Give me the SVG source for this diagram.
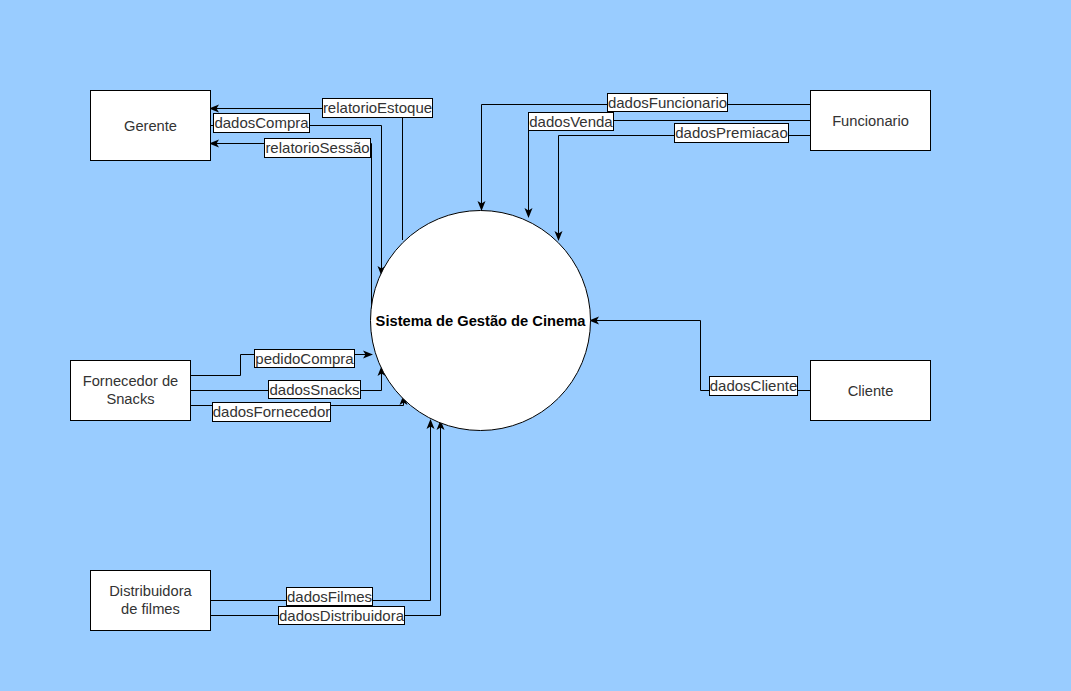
<svg xmlns="http://www.w3.org/2000/svg" width="1071" height="691" viewBox="0 0 1071 691">
<defs>
<marker id="arr" viewBox="0 0 10 10" refX="9" refY="5" markerWidth="10" markerHeight="10" markerUnits="userSpaceOnUse" orient="auto">
<path d="M0,1 L10,5 L0,9 L2.5,5 Z" fill="#000"/>
</marker>
<style>
.box{fill:#fff;stroke:#000;stroke-width:1}
.t{font-family:"Liberation Sans",Arial,sans-serif;font-size:14.7px;fill:#333;text-anchor:middle}
.c{fill:none;stroke:#000;stroke-width:1;marker-end:url(#arr)}
.lb{fill:#fff;stroke:#000;stroke-width:1}
.lt{font-family:"Liberation Sans",Arial,sans-serif;font-size:15px;fill:#333;text-anchor:middle}
</style>
</defs>
<rect width="1071" height="691" fill="#99CCFF"/>
<g id="connectors">
<path class="c" d="M402.5,240 V108.5 H210"/>
<path class="c" d="M210,125.5 H381.5 V275"/>
<path class="c" d="M371.5,335 V143.5 H210"/>
<path class="c" d="M810,104.5 H481.5 V210"/>
<path class="c" d="M810,120.5 H528.5 V217"/>
<path class="c" d="M810,135.5 H558.5 V240"/>
<path class="c" d="M190,375.5 H240.5 V354.5 H372"/>
<path class="c" d="M190,390.5 H381.5 V367"/>
<path class="c" d="M190,405.5 H403.5 V396"/>
<path class="c" d="M210,600.5 H430.5 V420"/>
<path class="c" d="M210,615.5 H440.5 V421"/>
<path class="c" d="M810,390.5 H700.5 V320.5 H590"/>
<rect class="lb" x="322.5" y="98.5" width="110" height="19"/><text class="lt" x="377.5" y="113">relatorioEstoque</text>
<rect class="lb" x="213.5" y="113.5" width="96" height="19"/><text class="lt" x="261.5" y="128">dadosCompra</text>
<rect class="lb" x="264.5" y="138.5" width="106" height="19"/><text class="lt" x="317.5" y="153">relatorioSessão</text>
<rect class="lb" x="607.5" y="93.5" width="120" height="18"/><text class="lt" x="667.5" y="107.5">dadosFuncionario</text>
<rect class="lb" x="528.5" y="112.5" width="85" height="18"/><text class="lt" x="571" y="126.5">dadosVenda</text>
<rect class="lb" x="674.5" y="123.5" width="114" height="19"/><text class="lt" x="731.5" y="138">dadosPremiacao</text>
<rect class="lb" x="254.5" y="349.5" width="100" height="18"/><text class="lt" x="304.5" y="363.5">pedidoCompra</text>
<rect class="lb" x="268.5" y="380.5" width="92" height="18"/><text class="lt" x="314.5" y="394.5">dadosSnacks</text>
<rect class="lb" x="212.5" y="402.5" width="118" height="19"/><text class="lt" x="271.5" y="417">dadosFornecedor</text>
<rect class="lb" x="286.5" y="587.5" width="86" height="18"/><text class="lt" x="329.5" y="601.5">dadosFilmes</text>
<rect class="lb" x="278.5" y="606.5" width="126" height="18"/><text class="lt" x="341.5" y="620.5">dadosDistribuidora</text>
<rect class="lb" x="709.5" y="376.5" width="88" height="19"/><text class="lt" x="753.5" y="391">dadosCliente</text>
</g>
<g id="gerente"><rect class="box" x="90.5" y="90.5" width="120" height="70"/><text class="t" x="150.5" y="131">Gerente</text></g>
<g id="funcionario"><rect class="box" x="810.5" y="90.5" width="120" height="60"/><text class="t" x="870.5" y="126">Funcionario</text></g>
<g id="fornecedor"><rect class="box" x="70.5" y="360.5" width="120" height="60"/><text class="t" x="130.5" y="386">Fornecedor de</text><text class="t" x="130.5" y="404">Snacks</text></g>
<g id="distribuidora"><rect class="box" x="90.5" y="570.5" width="120" height="60"/><text class="t" x="150.5" y="596">Distribuidora</text><text class="t" x="150.5" y="614">de filmes</text></g>
<g id="cliente"><rect class="box" x="810.5" y="360.5" width="120" height="60"/><text class="t" x="870.5" y="396">Cliente</text></g>
<g id="sistema"><circle cx="480.5" cy="320.5" r="110" fill="#fff" stroke="#000"/><text x="480.5" y="326" style="font-family:'Liberation Sans',Arial,sans-serif;font-size:14.7px;font-weight:bold;fill:#000;text-anchor:middle">Sistema de Gestão de Cinema</text></g>
</svg>
